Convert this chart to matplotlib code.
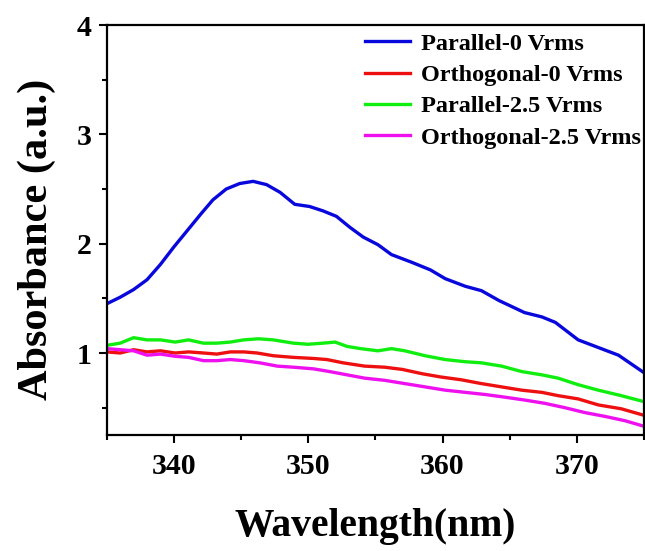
import numpy as np
import matplotlib
matplotlib.use('Agg')
import matplotlib.pyplot as plt
from matplotlib.ticker import MultipleLocator

plt.rcParams['font.family'] = ['Liberation Serif', 'DejaVu Serif']
plt.rcParams['font.weight'] = 'bold'
plt.rcParams['axes.labelweight'] = 'bold'

# absorbance spectra, wavelength in nm
wl_par0 = [335, 336, 337, 338, 339, 340, 341, 342, 342.9, 343.9, 344.9, 345.9, 346.9,
           347.9, 349, 350.1, 351.1, 352.1, 353.1, 354.1, 355.2, 356.2, 357.7, 359.1,
           360.2, 361.7, 362.9, 364.2, 366.1, 367.4, 368.4, 370.1, 371.6, 373.1, 375]
abs_par0 = [1.45, 1.51, 1.58, 1.67, 1.81, 1.97, 2.12, 2.27, 2.40, 2.50, 2.55, 2.57, 2.54,
            2.47, 2.36, 2.34, 2.30, 2.25, 2.15, 2.06, 1.99, 1.90, 1.83, 1.76,
            1.68, 1.61, 1.57, 1.48, 1.37, 1.33, 1.28, 1.12, 1.05, 0.98, 0.82]

wl_orth0 = [335, 336, 337, 338, 339, 340.1, 341.1, 342.2, 343.2, 344.2, 345.2, 346.2,
            347.4, 348.9, 350.4, 351.4, 352.6, 354.2, 355.7, 357.0, 358.5, 359.9,
            361.4, 362.9, 364.4, 365.9, 367.4, 368.6, 370.1, 371.6, 373.3, 375]
abs_orth0 = [1.01, 1.00, 1.03, 1.01, 1.02, 1.00, 1.01, 1.00, 0.99, 1.01, 1.01, 1.00,
             0.975, 0.96, 0.95, 0.94, 0.91, 0.88, 0.87, 0.85, 0.81, 0.78,
             0.755, 0.72, 0.69, 0.66, 0.64, 0.61, 0.58, 0.525, 0.49, 0.43]

wl_par25 = [335, 336, 337, 338, 339, 340.1, 341.1, 342.2, 343.2, 344.2, 345.2, 346.3,
            347.4, 348.9, 350.0, 351.1, 352.0, 352.9, 353.9, 355.2, 356.2, 357.2,
            358.7, 360.2, 361.7, 362.9, 364.4, 365.9, 367.4, 368.6, 370.1, 371.6,
            373.3, 375]
abs_par25 = [1.07, 1.09, 1.14, 1.12, 1.12, 1.10, 1.12, 1.09, 1.09, 1.10, 1.12, 1.13,
             1.12, 1.09, 1.08, 1.09, 1.10, 1.06, 1.04, 1.02, 1.04, 1.02,
             0.975, 0.94, 0.92, 0.91, 0.88, 0.83, 0.80, 0.77, 0.71, 0.66,
             0.61, 0.555]

wl_orth25 = [335, 336, 337, 338, 339, 340.1, 341.1, 342.2, 343.2, 344.2, 345.2, 346.4,
             347.7, 348.9, 350.4, 351.6, 352.9, 354.2, 355.7, 357.2, 358.7, 360.2,
             361.7, 363.2, 364.7, 366.1, 367.6, 369.1, 370.6, 372.1, 373.6, 375]
abs_orth25 = [1.04, 1.03, 1.02, 0.98, 0.99, 0.97, 0.96, 0.93, 0.93, 0.94, 0.93, 0.91,
              0.88, 0.87, 0.855, 0.83, 0.80, 0.77, 0.75, 0.72, 0.69, 0.66,
              0.64, 0.62, 0.595, 0.57, 0.54, 0.50, 0.455, 0.42, 0.38, 0.33]

labels = ['Parallel-0 Vrms', 'Orthogonal-0 Vrms', 'Parallel-2.5 Vrms', 'Orthogonal-2.5 Vrms']
colors = ['#0808dc', '#ee1010', '#10ee10', '#ee10ee']

fig = plt.figure(figsize=(6.45, 5.51), dpi=100)
ax = fig.add_axes([106.7/645, 1 - 435/551, (644 - 106.7)/645, (435 - 25)/551])

series = [(wl_par0, abs_par0), (wl_orth0, abs_orth0),
          (wl_par25, abs_par25), (wl_orth25, abs_orth25)]
for (x, y), lab, c in zip(series, labels, colors):
    ax.plot(x, y, color=c, lw=2.4, label=lab, solid_joinstyle='round')

ax.set_xlim(335, 375)
ax.set_ylim(0.25, 4)
ax.xaxis.set_major_locator(MultipleLocator(10))
ax.xaxis.set_minor_locator(MultipleLocator(5))
ax.yaxis.set_major_locator(MultipleLocator(1))
ax.yaxis.set_minor_locator(MultipleLocator(0.5))
ax.tick_params(which='major', direction='out', length=6, width=1.5, labelsize=21.5, pad=5)
ax.tick_params(which='minor', direction='out', length=3.6, width=1.5)
ax.tick_params(axis='x', which='major', pad=7)
for s in ax.spines.values():
    s.set_linewidth(1.6)

ax.set_xlabel('Wavelength(nm)', fontsize=28.5, labelpad=20)
ax.set_ylabel('Absorbance (a.u.)', fontsize=30.5)
ax.yaxis.set_label_coords(-0.094, 0.476)

ax.legend(loc='upper right', bbox_to_anchor=(1.008, 1.0), frameon=False,
          fontsize=17.5, handlelength=1.85, handletextpad=0.45,
          labelspacing=0.38, borderaxespad=0.0, borderpad=0.32)

fig.savefig('out.png', dpi=100)
